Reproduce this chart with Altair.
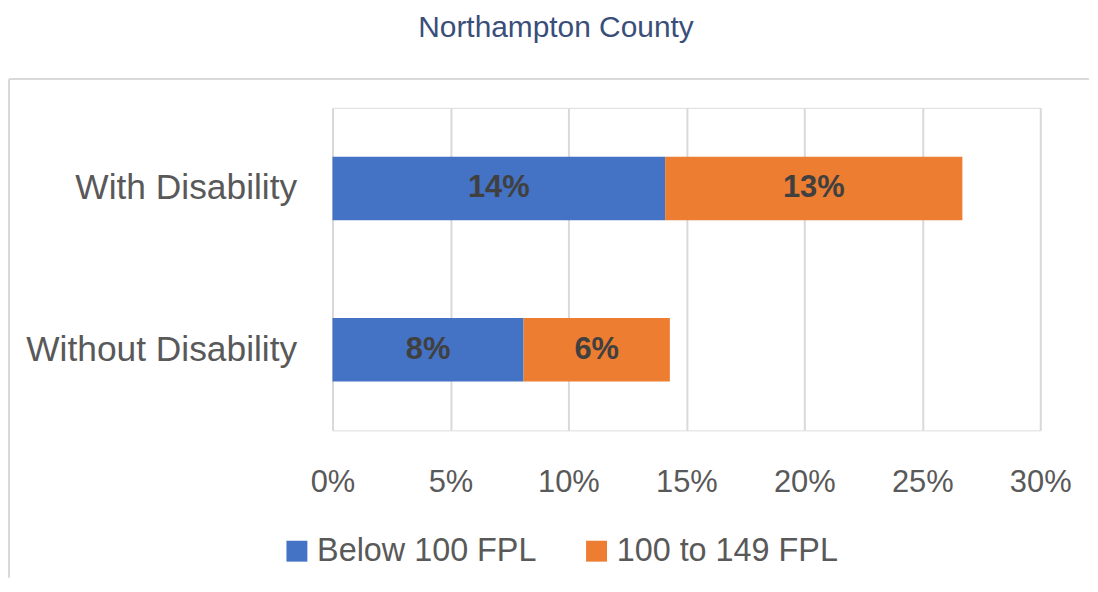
import altair as alt
import pandas as pd

groups = ["With Disability", "Without Disability"]
series = ["Below 100 FPL", "100 to 149 FPL"]
below_100 = [0.141, 0.081]
fpl_100_149 = [0.126, 0.062]
x_ticks = [0, 0.05, 0.10, 0.15, 0.20, 0.25, 0.30]

rows = []
for i, g in enumerate(groups):
    rows.append({"group": g, "series": series[0], "value": below_100[i], "ord": 0})
    rows.append({"group": g, "series": series[1], "value": fpl_100_149[i], "ord": 1})
df = pd.DataFrame(rows)

FONT = "Liberation Sans"
AXIS_COLOR = "#595959"

y_enc = alt.Y(
    "group:N",
    sort=groups,
    scale=alt.Scale(paddingInner=0, paddingOuter=0),
    axis=alt.Axis(
        title=None, labelFontSize=35.5, labelColor=AXIS_COLOR, labelFont=FONT,
        ticks=False, domain=False, labelPadding=36, minExtent=325, labelLimit=400,
    ),
)

bars = alt.Chart(df).mark_bar(size=64).encode(
    y=y_enc,
    x=alt.X(
        "value:Q",
        stack="zero",
        scale=alt.Scale(domain=[0, 0.3], nice=False),
        axis=alt.Axis(
            title=None, format=".0%", values=x_ticks, grid=True, gridColor="#D9D9D9",
            gridWidth=2, ticks=False, domain=False, labelFontSize=31,
            labelColor=AXIS_COLOR, labelFont=FONT, labelPadding=37,
            labelFlush=False, labelOverlap=False,
        ),
    ),
    color=alt.Color(
        "series:N",
        scale=alt.Scale(domain=series, range=["#4472C4", "#ED7D31"]),
        legend=alt.Legend(
            orient="none", legendX=-52, legendY=429, direction="horizontal",
            title=None, symbolType="square", symbolSize=441, symbolStrokeWidth=0,
            labelFontSize=32.5, labelColor=AXIS_COLOR, labelFont=FONT, labelLimit=400,
            columnPadding=44, labelOffset=4, padding=0,
        ),
    ),
    order=alt.Order("ord:Q"),
)

labels = alt.Chart(df).transform_stack(
    stack="value", groupby=["group"], as_=["v0", "v1"],
    sort=[alt.SortField("ord", order="ascending")],
).transform_calculate(
    mid="(datum.v0 + datum.v1) / 2"
).mark_text(
    font=FONT, fontSize=31, fontWeight="bold", color="#404040", baseline="middle", align="center",
).encode(
    y=alt.Y("group:N", sort=groups),
    x=alt.X("mid:Q"),
    text=alt.Text("value:Q", format=".0%"),
)

frame = pd.DataFrame({"k": [0]})
left_line = alt.Chart(frame).mark_rule(color="#D9D9D9", strokeWidth=2).encode(
    x=alt.value(-325), y=alt.value(-29), y2=alt.value(472)
)
top_line = alt.Chart(frame).mark_rule(color="#D9D9D9", strokeWidth=2).encode(
    x=alt.value(-325), x2=alt.value(760), y=alt.value(-29)
)

chart = alt.layer(left_line, top_line, bars, labels).properties(
    width=711,
    height=324,
    padding={"top": 4, "left": 0, "right": 0, "bottom": 0},
    title=alt.TitleParams(
        "Northampton County", font=FONT, fontSize=30, fontWeight="normal",
        color="#3A4E7A", anchor="middle", frame="bounds", offset=35, dx=7,
    ),
).configure_view(stroke=None).configure(background="white")

chart.save("out.html", embed_options={"renderer": "svg", "actions": False})
